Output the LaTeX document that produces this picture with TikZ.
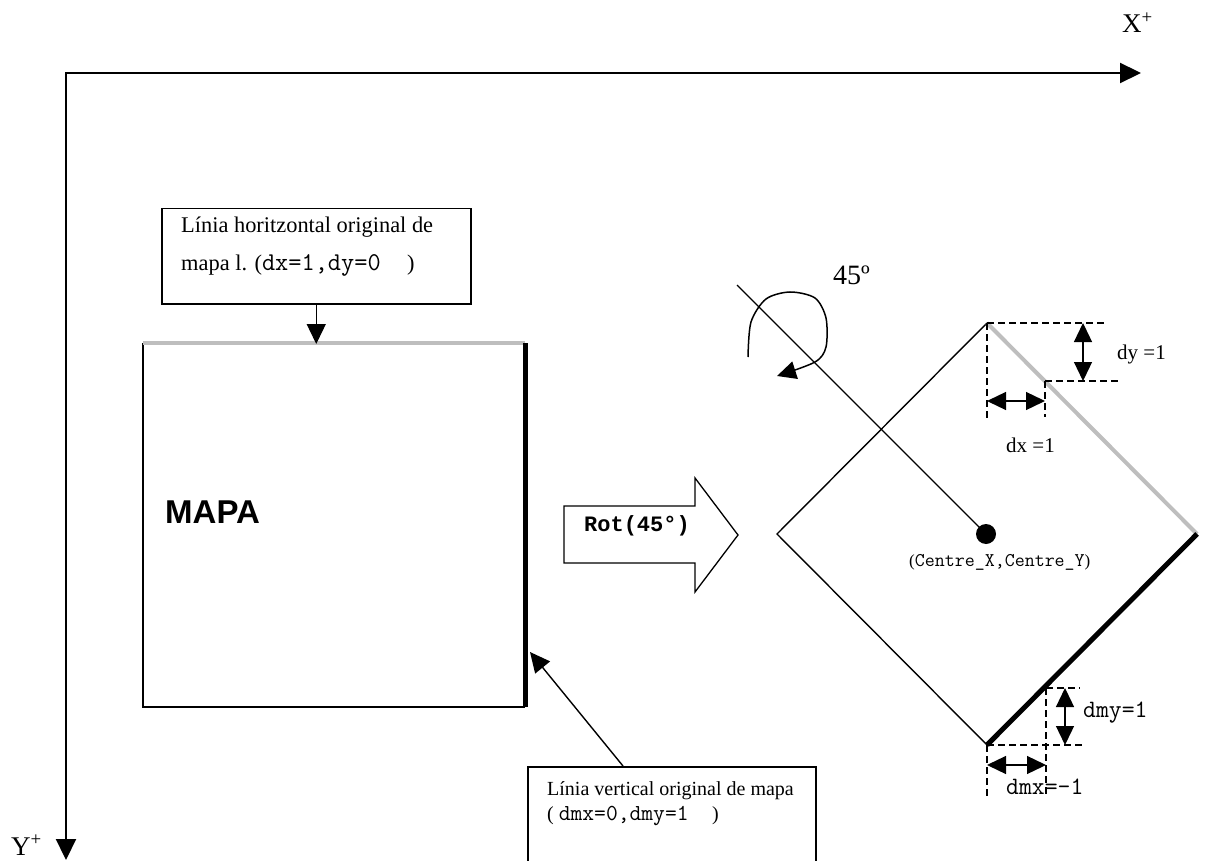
\documentclass[tikz,border=0pt]{standalone}
\usepackage{fontspec}
\setmainfont{Liberation Serif}
\setsansfont{Liberation Sans}
\newfontfamily\courfam{Liberation Mono}
\usetikzlibrary{arrows.meta}
\definecolor{linegray}{RGB}{190,190,190}
\tikzset{
  axisline/.style={line width=2.2pt, {Triangle[length=21pt,width=20pt]}-{Triangle[length=21pt,width=20pt]}},
  thinline/.style={line width=1.4pt},
  bigtip/.style={line width=1.4pt, -{Triangle[length=20pt,width=19pt]}},
  dimline/.style={line width=1.3pt, dash pattern=on 7pt off 4pt},
  dimarrow/.style={line width=1.3pt, {Triangle[length=19pt,width=18pt]}-{Triangle[length=19pt,width=18pt]}},
  lbl/.style={inner sep=0pt, anchor=base west},
  boxstyle/.style={draw, line width=1.5pt, inner sep=0pt, anchor=north west},
}
\begin{document}
\begin{tikzpicture}[x=1pt,y=-1pt]
\useasboundingbox (0,0) rectangle (1205,861);

% axes
\coordinate (O) at (66,73);
\coordinate (Xend) at (1141,73);
\coordinate (Yend) at (66,860);
\draw[axisline] (Xend) -- (O) -- (Yend);
\node[lbl, font=\fontsize{27}{30}\selectfont] (xlab) at (1122,33) {X\textsuperscript{+}};
\node[lbl, font=\fontsize{27}{30}\selectfont] (ylab) at (11,855) {Y\textsuperscript{+}};

% top label box
\node[boxstyle, minimum width=309pt, minimum height=95pt] (tb) at (161,208) {};
\node[lbl, font=\fontsize{22.4}{26}\selectfont] (tb1) at (181,233) {Línia horitzontal original de};
\node[lbl, font=\fontsize{22.4}{26}\selectfont] (tb2) at (181,270) {mapa l. ({\fontsize{25.6}{26}\selectfont\ttfamily dx=1,dy=0~~})};

% MAPA square
\coordinate (mTL) at (143,343);
\coordinate (mTR) at (525,343);
\coordinate (mBR) at (525,707);
\coordinate (mBL) at (143,707);
\draw[thinline] (mTL) -- (mBL) -- (mBR);
\draw[linegray, line width=4pt] (mTL) -- (mTR);
\draw[line width=5pt] (mTR) -- (mBR);
\node[lbl, font=\sffamily\bfseries\fontsize{33}{36}\selectfont] (mapa) at (165,523) {MAPA};
\coordinate (tgt) at (tb.south |- mTL);
\draw[bigtip] (tb.south) -- ([yshift=-1pt]tgt);

% bottom label box
\node[boxstyle, minimum width=288pt, minimum height=95pt] (bb) at (527,766) {};
\node[lbl, font=\fontsize{20}{24}\selectfont] (bb1) at (547,795) {Línia vertical original de mapa};
\node[lbl, font=\fontsize{20}{24}\selectfont] (bb2) at (547,820) {( {\fontsize{22.9}{24}\selectfont\ttfamily dmx=0,dmy=1~~})};
\coordinate (vtgt) at (530,652);
\draw[bigtip] ([xshift=96pt]bb.north west) -- (vtgt);

% Rot block arrow
\draw[line width=1.3pt, fill=white] (564,506) -- (695,506) -- (695,478) -- (738,535) -- (695,592) -- (695,563) -- (564,563) -- cycle;
\node[font=\courfam\bfseries\fontsize{22}{24}\selectfont, inner sep=0pt] (rot) at (637,526) {Rot(45°)};

% rotated square
\coordinate (T) at (987,323);
\coordinate (R) at (1197,534);
\coordinate (B) at (987,745);
\coordinate (L) at (777,534);
\coordinate (C) at (986,534);
\draw[thinline] (T) -- (L) -- (B);
\draw[linegray, line width=4pt] (T) -- (R);
\draw[line width=5pt] (R) -- (B);

% centre line and dot
\coordinate (cl) at (737,285);
\draw[thinline] (cl) -- (C);
\fill (C) circle[radius=10pt];
\node[lbl, font=\fontsize{17}{20}\selectfont] (clab) at (909,566) {({\fontsize{19.4}{20}\selectfont\ttfamily Centre\_X,Centre\_Y})};

% rotation arrow
\draw[line width=1.5pt, -{Triangle[length=19pt,width=18pt]}] plot[smooth] coordinates {(748,357) (751,322) (766,299) (790,292) (815,298) (826,318) (826,347) (815,362) (777,376)};
\node[lbl, font=\fontsize{28}{30}\selectfont] (ang) at (833,284) {45º};

% top dimensions
\coordinate (gP) at (1045,381);
\draw[dimline] (T) -- (1105,323);
\draw[dimline] (T) -- (987,420);
\draw[dimline] (gP) -- (1120,381);
\draw[dimline] (gP) -- (1045,417);
\draw[dimarrow] (1083,323) -- (1083,381);
\draw[dimarrow] (987,401) -- (1045,401);
\node[lbl, font=\fontsize{21}{24}\selectfont] (dylab) at (1117,359) {dy =1};
\node[lbl, font=\fontsize{21}{24}\selectfont] (dxlab) at (1006,452) {dx =1};

% bottom dimensions
\coordinate (bP) at (1046,688);
\draw[dimline] (B) -- (1083,745);
\draw[dimline] (B) -- (987,797);
\draw[dimline] (bP) -- (1080,688);
\draw[dimline] (bP) -- (1046,797);
\draw[dimarrow] (1065,688) -- (1065,745);
\draw[dimarrow] (987,765) -- (1046,765);
\node[lbl, font=\ttfamily\fontsize{25}{26}\selectfont] (dmylab) at (1083,717) {dmy=1};
\node[lbl, font=\ttfamily\fontsize{25}{26}\selectfont] (dmxlab) at (1006,794) {dmx=-1};
\end{tikzpicture}
\end{document}
